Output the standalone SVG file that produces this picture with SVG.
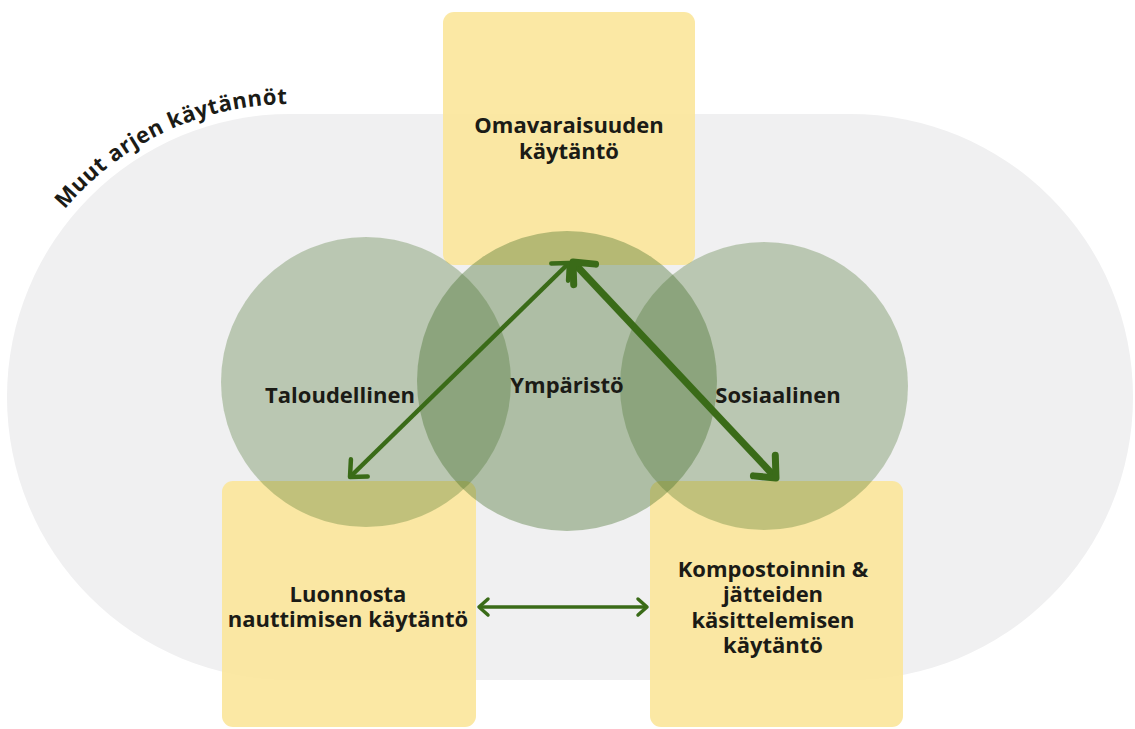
<svg xmlns="http://www.w3.org/2000/svg" width="1135" height="729" viewBox="0 0 1135 729">
<defs>
<style>
.lbl{font-family:"Open Sans","Liberation Sans",sans-serif;font-weight:700;font-size:22px;fill:#1b1b16;text-anchor:middle}
.box{fill:#FBE59A;fill-opacity:0.9}
.circ{fill:#3f6b22;fill-opacity:0.3}
.conn{fill:none;stroke:#3a6b18}
</style>
<marker id="mThin" markerUnits="userSpaceOnUse" viewBox="-20 -20 40 40" markerWidth="40" markerHeight="40" refX="0" refY="0" orient="auto-start-reverse">
<path d="M-13,-12 L0,0 L-13,12" fill="none" stroke="#3a6b18" stroke-width="4.5" stroke-linecap="round" stroke-linejoin="round"/>
</marker>
<marker id="mThick" markerUnits="userSpaceOnUse" viewBox="-25 -25 50 50" markerWidth="50" markerHeight="50" refX="0" refY="0" orient="auto-start-reverse">
<path d="M-17,-15 L0,0 L-17,15" fill="none" stroke="#3a6b18" stroke-width="7" stroke-linecap="round" stroke-linejoin="round"/>
</marker>
<marker id="mH" markerUnits="userSpaceOnUse" viewBox="-20 -20 40 40" markerWidth="40" markerHeight="40" refX="0" refY="0" orient="auto-start-reverse">
<path d="M-9,-8 L0,0 L-9,8" fill="none" stroke="#3a6b18" stroke-width="3.5" stroke-linecap="round" stroke-linejoin="round"/>
</marker>
<path id="arcPath" d="M56,220.7 A293,293 0 0 1 340.9,108.5"/>
</defs>
<rect width="1135" height="729" fill="#ffffff"/>
<g id="muut-arjen-kaytannot">
<rect x="7" y="114" width="1126" height="566" rx="283" ry="283" fill="#F0F0F1"/>
<text font-family="'Open Sans','Liberation Sans',sans-serif" font-weight="700" font-size="22" fill="#1b1b16" letter-spacing="0.6"><textPath href="#arcPath" startOffset="14">Muut arjen käytännöt</textPath></text>
</g>
<g id="omavaraisuus">
<rect class="box" x="443" y="12" width="252" height="253" rx="11"/>
</g>
<g id="luonnosta">
<rect class="box" x="222" y="481" width="254" height="246" rx="11"/>
</g>
<g id="kompostointi">
<rect class="box" x="650" y="481" width="253" height="246" rx="11"/>
</g>
<g id="taloudellinen">
<circle class="circ" cx="366" cy="382" r="145"/>
</g>
<g id="ymparisto">
<circle class="circ" cx="567" cy="381" r="150" style="fill-opacity:0.37"/>
</g>
<g id="sosiaalinen">
<circle class="circ" cx="764" cy="386" r="144"/>
</g>
<g id="connectors">
<line class="conn" x1="350" y1="477" x2="569" y2="263" stroke-width="4.5" marker-start="url(#mThin)" marker-end="url(#mThin)"/>
<line class="conn" x1="573" y1="262" x2="776" y2="478" stroke-width="7" marker-start="url(#mThick)" marker-end="url(#mThick)"/>
<line class="conn" x1="479" y1="607" x2="647" y2="607" stroke-width="3.5" marker-start="url(#mH)" marker-end="url(#mH)"/>
</g>
<g id="labels">
<text class="lbl" x="569" y="133">Omavaraisuuden</text>
<text class="lbl" x="569" y="158.5">käytäntö</text>
<text class="lbl" x="340" y="403">Taloudellinen</text>
<text class="lbl" x="567" y="393">Ympäristö</text>
<text class="lbl" x="778" y="403">Sosiaalinen</text>
<text class="lbl" x="348" y="601.5">Luonnosta</text>
<text class="lbl" x="348" y="627">nauttimisen käytäntö</text>
<text class="lbl" x="773" y="577">Kompostoinnin &amp;</text>
<text class="lbl" x="773" y="602">jätteiden</text>
<text class="lbl" x="773" y="628">käsittelemisen</text>
<text class="lbl" x="773" y="653">käytäntö</text>
</g>
</svg>
